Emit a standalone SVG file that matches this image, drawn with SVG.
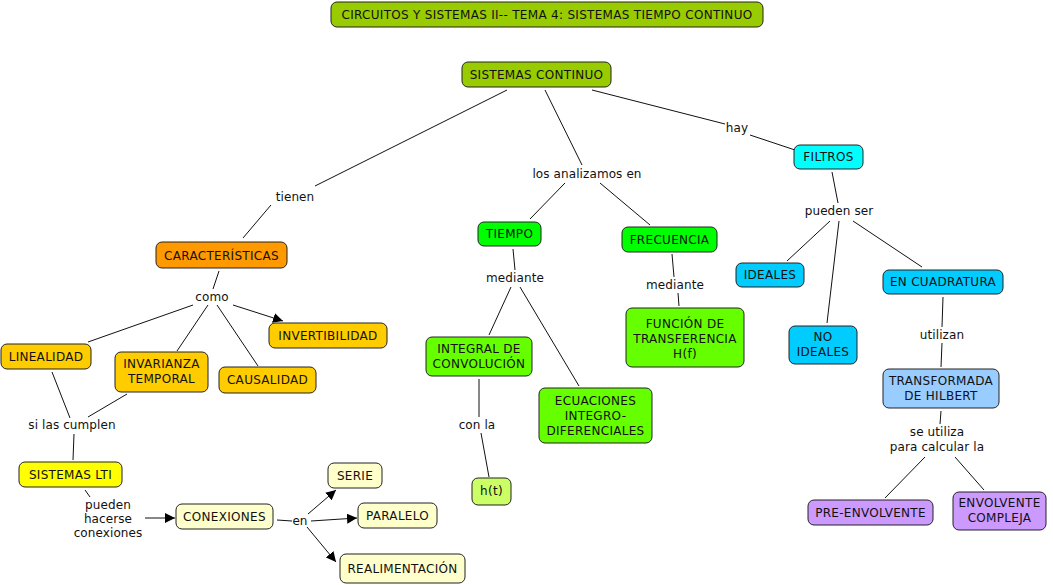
<svg xmlns="http://www.w3.org/2000/svg" width="1053" height="585" viewBox="0 0 1053 585">
<style>
.n{stroke:#222;stroke-width:1;}
.t{font-family:"DejaVu Sans",Verdana,sans-serif;font-size:12px;letter-spacing:0.3px;fill:#111;text-anchor:middle;}
.l{font-family:"DejaVu Sans",Verdana,sans-serif;font-size:12px;letter-spacing:0.1px;fill:#111;text-anchor:middle;}
#edges line{stroke:#111;stroke-width:1;}
.a{marker-end:url(#ah);}
</style>
<defs>
<marker id="ah" viewBox="0 0 10 10" refX="10" refY="5" markerWidth="10" markerHeight="10" markerUnits="userSpaceOnUse" orient="auto">
<path d="M0,0 L10,5 L0,10 z" fill="#000"/>
</marker>
</defs>
<rect width="1053" height="585" fill="#fff"/>
<g id="edges">
<line x1="507" y1="90" x2="315" y2="186"/>
<line x1="271" y1="205" x2="243" y2="238"/>
<line x1="545" y1="90" x2="582" y2="165"/>
<line x1="565" y1="183" x2="530" y2="219"/>
<line x1="600" y1="183" x2="650" y2="225"/>
<line x1="592" y1="90" x2="725" y2="124"/>
<line x1="750" y1="135" x2="795" y2="150"/>
<line x1="219" y1="271" x2="213" y2="289"/>
<line x1="193" y1="305" x2="88" y2="342"/>
<line x1="208" y1="305" x2="177" y2="351"/>
<line x1="217" y1="305" x2="258" y2="366"/>
<line class="a" x1="233" y1="305" x2="283" y2="321"/>
<line x1="52" y1="372" x2="70" y2="418"/>
<line x1="127" y1="394" x2="88" y2="417"/>
<line x1="74" y1="434" x2="73" y2="460"/>
<line x1="85" y1="490" x2="90" y2="497"/>
<line class="a" x1="145" y1="518" x2="175" y2="518"/>
<line x1="277" y1="520" x2="292" y2="521"/>
<line class="a" x1="308" y1="514" x2="336" y2="490"/>
<line class="a" x1="311" y1="521" x2="357" y2="518"/>
<line class="a" x1="307" y1="527" x2="336" y2="562"/>
<line x1="513" y1="249" x2="515" y2="270"/>
<line x1="511" y1="287" x2="489" y2="335"/>
<line x1="520" y1="287" x2="579" y2="386"/>
<line x1="479" y1="379" x2="479" y2="417"/>
<line x1="481" y1="433" x2="489" y2="477"/>
<line x1="672" y1="254" x2="674" y2="277"/>
<line x1="678" y1="293" x2="679" y2="306"/>
<line x1="832" y1="172" x2="838" y2="203"/>
<line x1="830" y1="221" x2="787" y2="261"/>
<line x1="839" y1="221" x2="827" y2="323"/>
<line x1="853" y1="221" x2="922" y2="267"/>
<line x1="943" y1="297" x2="942" y2="327"/>
<line x1="942" y1="343" x2="941" y2="367"/>
<line x1="941" y1="411" x2="940" y2="424"/>
<line x1="925" y1="457" x2="885" y2="498"/>
<line x1="955" y1="457" x2="984" y2="490"/>
</g>
<g id="labels">
<text class="l" x="295" y="201">tienen</text>
<text class="l" x="587" y="178">los analizamos en</text>
<text class="l" x="737" y="132">hay</text>
<text class="l" x="212" y="301">como</text>
<text class="l" x="72" y="429">si las cumplen</text>
<text class="l" x="108" y="509">pueden</text>
<text class="l" x="108" y="523">hacerse</text>
<text class="l" x="108" y="537">conexiones</text>
<text class="l" x="300" y="525">en</text>
<text class="l" x="515" y="282">mediante</text>
<text class="l" x="477" y="429">con la</text>
<text class="l" x="675" y="289">mediante</text>
<text class="l" x="839" y="215">pueden ser</text>
<text class="l" x="942" y="339">utilizan</text>
<text class="l" x="937" y="436">se utiliza</text>
<text class="l" x="937" y="451">para calcular la</text>
</g>
<g id="n-title"><rect class="n" x="331" y="2" width="432" height="25" rx="6" fill="#99CC00"/><text class="t" x="547" y="19">CIRCUITOS Y SISTEMAS II-- TEMA 4: SISTEMAS TIEMPO CONTINUO</text></g>
<g id="n-sc"><rect class="n" x="462" y="62" width="149" height="25" rx="6" fill="#99CC00"/><text class="t" x="536.5" y="79">SISTEMAS CONTINUO</text></g>
<g id="n-car"><rect class="n" x="156" y="242" width="131" height="26" rx="6" fill="#FF9900"/><text class="t" x="221.5" y="260">CARACTERÍSTICAS</text></g>
<g id="n-inv"><rect class="n" x="269" y="323" width="118" height="25" rx="6" fill="#FFCC00"/><text class="t" x="328" y="340">INVERTIBILIDAD</text></g>
<g id="n-lin"><rect class="n" x="1" y="344" width="90" height="25" rx="6" fill="#FFCC00"/><text class="t" x="46" y="361">LINEALIDAD</text></g>
<g id="n-invt"><rect class="n" x="115" y="352" width="93" height="40" rx="6" fill="#FFCC00"/><text class="t" x="161.5" y="368">INVARIANZA</text><text class="t" x="161.5" y="383">TEMPORAL</text></g>
<g id="n-cau"><rect class="n" x="219" y="367" width="97" height="26" rx="6" fill="#FFCC00"/><text class="t" x="267.5" y="384">CAUSALIDAD</text></g>
<g id="n-lti"><rect class="n" x="19" y="462" width="103" height="25" rx="6" fill="#FFFF00"/><text class="t" x="70.5" y="479">SISTEMAS LTI</text></g>
<g id="n-con"><rect class="n" x="176" y="504" width="97" height="25" rx="6" fill="#FFFFCC"/><text class="t" x="224.5" y="521">CONEXIONES</text></g>
<g id="n-serie"><rect class="n" x="328" y="463" width="54" height="25" rx="6" fill="#FFFFCC"/><text class="t" x="355" y="480">SERIE</text></g>
<g id="n-par"><rect class="n" x="358" y="503" width="79" height="25" rx="6" fill="#FFFFCC"/><text class="t" x="397.5" y="520">PARALELO</text></g>
<g id="n-real"><rect class="n" x="340" y="554" width="125" height="29" rx="6" fill="#FFFFCC"/><text class="t" x="402.5" y="573">REALIMENTACIÓN</text></g>
<g id="n-tiempo"><rect class="n" x="478" y="222" width="63" height="24" rx="6" fill="#00FF00"/><text class="t" x="509.5" y="238">TIEMPO</text></g>
<g id="n-frec"><rect class="n" x="622" y="227" width="95" height="25" rx="6" fill="#00FF00"/><text class="t" x="669.5" y="244">FRECUENCIA</text></g>
<g id="n-fun"><rect class="n" x="626" y="308" width="118" height="59" rx="6" fill="#66FF00"/><text class="t" x="685" y="328">FUNCIÓN DE</text><text class="t" x="685" y="343">TRANSFERENCIA</text><text class="t" x="685" y="358">H(f)</text></g>
<g id="n-int"><rect class="n" x="426" y="337" width="106" height="39" rx="6" fill="#66FF00"/><text class="t" x="479" y="353">INTEGRAL DE</text><text class="t" x="479" y="368">CONVOLUCIÓN</text></g>
<g id="n-ecu"><rect class="n" x="539" y="388" width="113" height="55" rx="6" fill="#66FF00"/><text class="t" x="595.5" y="405">ECUACIONES</text><text class="t" x="595.5" y="420">INTEGRO-</text><text class="t" x="595.5" y="435">DIFERENCIALES</text></g>
<g id="n-ht"><rect class="n" x="472" y="478" width="39" height="27" rx="6" fill="#CCFF66"/><text class="t" x="491.5" y="495">h(t)</text></g>
<g id="n-fil"><rect class="n" x="794" y="145" width="69" height="24" rx="6" fill="#00FFFF"/><text class="t" x="828.5" y="161">FILTROS</text></g>
<g id="n-ide"><rect class="n" x="736" y="263" width="68" height="24" rx="6" fill="#00CCFF"/><text class="t" x="770" y="279">IDEALES</text></g>
<g id="n-noide"><rect class="n" x="789" y="326" width="68" height="38" rx="6" fill="#00CCFF"/><text class="t" x="823" y="341">NO</text><text class="t" x="823" y="356">IDEALES</text></g>
<g id="n-cuad"><rect class="n" x="883" y="270" width="120" height="24" rx="6" fill="#00CCFF"/><text class="t" x="943" y="286">EN CUADRATURA</text></g>
<g id="n-hil"><rect class="n" x="883" y="369" width="116" height="39" rx="6" fill="#99CCFF"/><text class="t" x="941" y="385">TRANSFORMADA</text><text class="t" x="941" y="400">DE HILBERT</text></g>
<g id="n-pre"><rect class="n" x="808" y="500" width="125" height="25" rx="6" fill="#CC99FF"/><text class="t" x="870.5" y="517">PRE-ENVOLVENTE</text></g>
<g id="n-env"><rect class="n" x="953" y="492" width="93" height="38" rx="6" fill="#CC99FF"/><text class="t" x="999.5" y="507">ENVOLVENTE</text><text class="t" x="999.5" y="522">COMPLEJA</text></g>
</svg>
